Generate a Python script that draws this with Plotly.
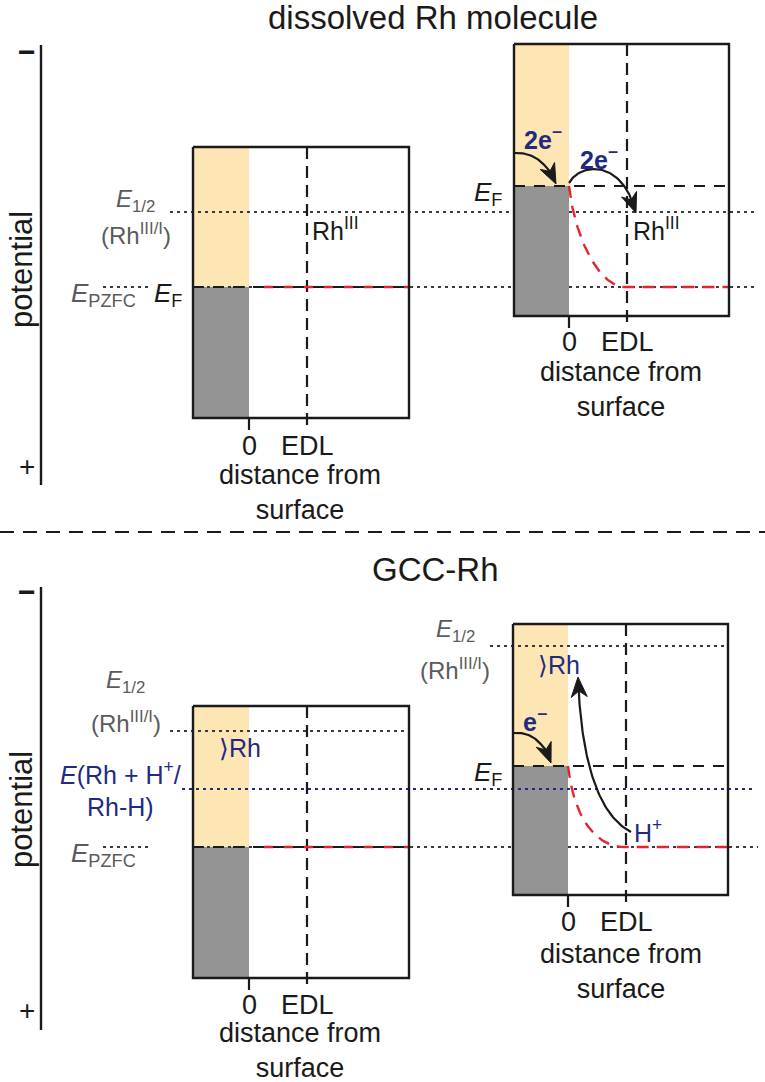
import numpy as np
import plotly.graph_objects as go

W, H = 765, 1082
FONT = "Liberation Sans, Arial, Helvetica, sans-serif"
BLACK = "#1a1a1a"
GRAY_TXT = "#5b5b5b"
DOT_COL = "#3a3a3a"
NAVY = "#1f2a80"
RED = "#e3262d"
YELLOW = "#fde6b4"
METAL = "#949494"

# ---------------- data (drawing units) ----------------
panel_titles = ["dissolved Rh molecule", "GCC-Rh"]
title_x = [433, 435]
title_y = [17, 569]
axis_x = [41, 41]
axis_top = [45, 587]
axis_bot = [485, 1030]
minus_y = [51, 591]
plus_y = [466, 1010]
potential_y = [270, 810]
separator_y = [532]

# four band diagrams: top-left, top-right, bottom-left, bottom-right
box_x0 = [193, 514, 193, 513]
box_x1 = [409, 729, 409, 728]
box_top = [147, 44, 706, 624]
box_bot = [418, 316, 978, 895]
surf_x = [249, 569, 249, 568]
edl_x = [307, 627, 307, 626]
fermi_y = [287, 186, 847, 766]
tick_len = [12, 12, 12, 12]

# potential levels (dotted) : y, list of x-segments
pzfc_y = [287, 847]
pzfc_segments = [[(103, 148), (193, 514), (569, 758)],
                 [(103, 148), (193, 513), (568, 758)]]
e12_y = [212, 731, 646]
e12_segments = [[(170, 514), (569, 758)], [(170, 409)], [(490, 728)]]
erhh_y = [789]
erhh_segments = [[(182, 752)]]

# red potential profiles: flat (left boxes) and bent (right boxes)
flat_profile_boxes = [0, 2]
bent_profile_ctrl = [
    [(569, 186), (575, 240), (600, 287), (625, 287)],
    [(568, 766), (574, 822), (599, 847), (624, 847)],
]
bent_profile_end = [729, 728]

# curved arrows (cubic control points)
arrow_ctrl = [
    [(515, 153), (535, 152), (548, 165), (556, 184)],
    [(569, 183), (580, 163), (622, 158), (636, 213)],
    [(513, 733), (533, 731), (545, 745), (551, 763)],
    [(631, 832), (598, 815), (581, 760), (578, 677)],
]

# text labels: (text, x, y, color, size, xanchor)
labels = [
    ("<i>E</i><sub>1/2</sub>", 135, 200, GRAY_TXT, 24, "center"),
    ("(Rh<sup>III/I</sup>)", 136, 234, GRAY_TXT, 24, "center"),
    ("<i>E</i><sub>PZFC</sub>", 69, 294, GRAY_TXT, 26, "left"),
    ("<i>E</i><sub>F</sub>", 152, 294, BLACK, 26, "left"),
    ("Rh<sup>III</sup>", 310, 229, BLACK, 25, "left"),
    ("<i>E</i><sub>F</sub>", 472, 193, BLACK, 26, "left"),
    ("<b>2e<sup>−</sup></b>", 543, 138, NAVY, 25, "center"),
    ("<b>2e<sup>−</sup></b>", 599, 158, NAVY, 25, "center"),
    ("Rh<sup>III</sup>", 631, 229, BLACK, 25, "left"),
    ("<i>E</i><sub>1/2</sub>", 125, 681, GRAY_TXT, 24, "center"),
    ("(Rh<sup>III/I</sup>)", 126, 722, GRAY_TXT, 24, "center"),
    ("⟩Rh", 240, 748, NAVY, 25, "center"),
    ("<i>E</i>(Rh + H<sup>+</sup>/<br>Rh-H)", 120, 789, NAVY, 25, "center"),
    ("<i>E</i><sub>PZFC</sub>", 69, 854, GRAY_TXT, 26, "left"),
    ("<i>E</i><sub>1/2</sub>", 455, 630, GRAY_TXT, 24, "center"),
    ("(Rh<sup>III/I</sup>)", 455, 669, GRAY_TXT, 24, "center"),
    ("⟩Rh", 559, 665, NAVY, 25, "center"),
    ("<b>e<sup>−</sup></b>", 535, 720, NAVY, 25, "center"),
    ("<i>E</i><sub>F</sub>", 472, 773, BLACK, 26, "left"),
    ("H<sup>+</sup>", 648, 831, NAVY, 25, "center"),
]
tick_text_y = [446, 342, 1005, 922]
caption_y = [492, 389, 1050, 971]
caption_x = [300, 621, 300, 621]
tick_labels = ["0", "EDL"]
axis_caption = "distance from<br>surface"

# ---------------- helpers ----------------
def bezier(ctrl, n=60):
    p = np.array(ctrl, dtype=float)
    t = np.linspace(0, 1, n)[:, None]
    pts = ((1 - t) ** 3) * p[0] + 3 * ((1 - t) ** 2) * t * p[1] + 3 * (1 - t) * t ** 2 * p[2] + t ** 3 * p[3]
    return pts[:, 0], pts[:, 1]


def seg_xy(segments, y):
    xs, ys = [], []
    for a, b in segments:
        xs += [a, b, None]
        ys += [y, y, None]
    return xs, ys


fig = go.Figure()


def line(xs, ys, color, width, dash="solid"):
    fig.add_trace(go.Scatter(x=xs, y=ys, mode="lines", hoverinfo="skip",
                             line=dict(color=color, width=width, dash=dash)))


shapes = []
for i in range(4):
    shapes.append(dict(type="rect", xref="x", yref="y", x0=box_x0[i], x1=surf_x[i],
                       y0=box_top[i], y1=fermi_y[i], fillcolor=YELLOW, line=dict(width=0), layer="below"))
    shapes.append(dict(type="rect", xref="x", yref="y", x0=box_x0[i], x1=surf_x[i],
                       y0=fermi_y[i], y1=box_bot[i], fillcolor=METAL, line=dict(width=0), layer="below"))

for y, segs in zip(pzfc_y, pzfc_segments):
    xs, ys = seg_xy(segs, y)
    line(xs, ys, DOT_COL, 2, "3px,4px")
for y, segs in zip(e12_y, e12_segments):
    xs, ys = seg_xy(segs, y)
    line(xs, ys, DOT_COL, 2, "3px,4px")
for y, segs in zip(erhh_y, erhh_segments):
    xs, ys = seg_xy(segs, y)
    line(xs, ys, NAVY, 2.2, "3px,4px")

for i in range(4):
    line([box_x0[i], box_x1[i]], [fermi_y[i], fermi_y[i]], BLACK, 2.2, "11px,9px")
    line([edl_x[i], edl_x[i]], [box_top[i], box_bot[i] + tick_len[i]], BLACK, 2.2, "12px,7px")
    line([surf_x[i], surf_x[i]], [box_bot[i], box_bot[i] + tick_len[i]], BLACK, 2.2)

for i in flat_profile_boxes:
    start = box_x0[i] + 11
    while start < surf_x[i]:
        start += 20
    line([start, box_x1[i]], [fermi_y[i], fermi_y[i]], RED, 2.4, "9px,11px")
for ctrl, xend in zip(bent_profile_ctrl, bent_profile_end):
    bx, by = bezier(ctrl)
    xs = list(bx) + [xend]
    ys = list(by) + [ctrl[-1][1]]
    line(xs, ys, RED, 2.4, "12px,8px")

for i in range(4):
    line([box_x0[i], box_x1[i], box_x1[i], box_x0[i], box_x0[i]],
         [box_top[i], box_top[i], box_bot[i], box_bot[i], box_top[i]], BLACK, 2.4)

for ctrl in arrow_ctrl:
    bx, by = bezier(ctrl)
    tip = np.array([bx[-1], by[-1]])
    back = np.array([bx[-9], by[-9]])
    d = tip - back
    d /= np.linalg.norm(d)
    nrm = np.array([-d[1], d[0]])
    L, Wd = 20.0, 8.0
    p1 = tip - L * d + Wd * nrm
    p2 = tip - 0.7 * L * d
    p3 = tip - L * d - Wd * nrm
    keep = np.hypot(bx - tip[0], by - tip[1]) > 0.7 * L
    line(list(bx[keep]) + [p2[0]], list(by[keep]) + [p2[1]], BLACK, 2.2)
    fig.add_trace(go.Scatter(x=[tip[0], p1[0], p2[0], p3[0], tip[0]],
                             y=[tip[1], p1[1], p2[1], p3[1], tip[1]],
                             mode="lines", fill="toself", fillcolor=BLACK,
                             line=dict(color=BLACK, width=1), hoverinfo="skip"))

for k in range(2):
    line([axis_x[k], axis_x[k]], [axis_top[k], axis_bot[k]], BLACK, 2.4)
line([0, W], [separator_y[0], separator_y[0]], BLACK, 2.2, "14px,9px")

annotations = []


def txt(text, x, y, color=BLACK, size=24, xanchor="center", angle=0):
    annotations.append(dict(text=text, x=x, y=y, xref="x", yref="y", showarrow=False,
                            xanchor=xanchor, yanchor="middle", textangle=angle,
                            font=dict(family=FONT, size=size, color=color)))


for k in range(2):
    txt(panel_titles[k], title_x[k], title_y[k], BLACK, 33)
    txt("<b>−</b>", 27, minus_y[k], BLACK, 30)
    txt("+", 27, plus_y[k], BLACK, 28)
    txt("potential", 21, potential_y[k], BLACK, 31, angle=-90)

for (t, x, y, c, s, xa) in labels:
    txt(t, x, y, c, s, xa)

for i in range(4):
    txt(tick_labels[0], surf_x[i], tick_text_y[i], BLACK, 27)
    txt(tick_labels[1], edl_x[i], tick_text_y[i], BLACK, 27)
    txt(axis_caption, caption_x[i], caption_y[i], BLACK, 27)

fig.update_layout(
    width=W, height=H, margin=dict(l=0, r=0, t=0, b=0),
    paper_bgcolor="white", plot_bgcolor="white", showlegend=False,
    xaxis=dict(range=[0, W], visible=False, fixedrange=True),
    yaxis=dict(range=[H, 0], visible=False, fixedrange=True),
    shapes=shapes, annotations=annotations,
)

fig.write_html("out.html", config={"displayModeBar": False},
               post_script="document.body.style.margin='0';document.body.style.overflow='hidden';")
